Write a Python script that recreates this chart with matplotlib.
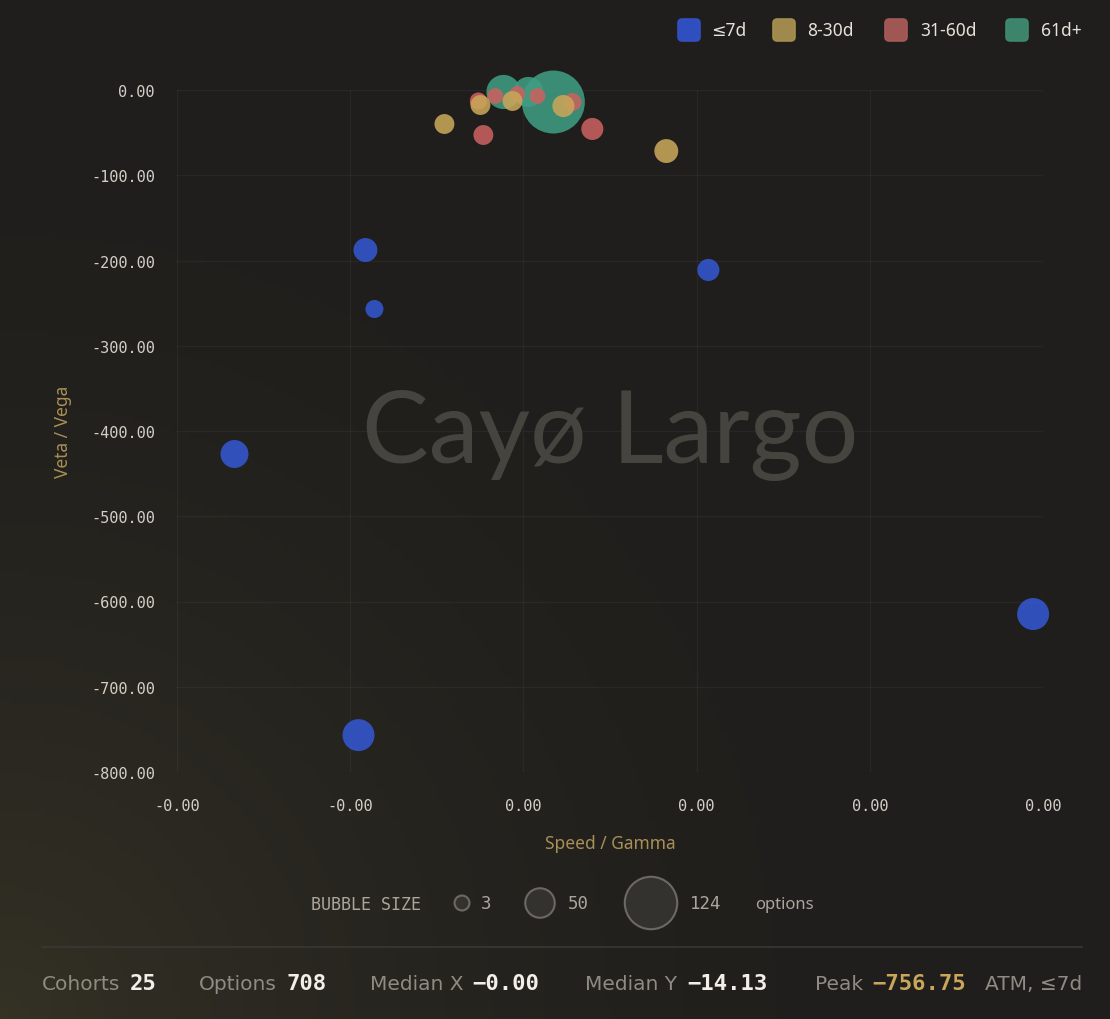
import numpy as np
import matplotlib
matplotlib.use("Agg")
import matplotlib.pyplot as plt
from matplotlib.ticker import FuncFormatter, FixedLocator
from matplotlib.patches import FancyBboxPatch, Circle

# cohorts by expiry bucket: x = speed/gamma (x1e-4), y = veta/vega, n = option count
groups = ["≤7d", "8-30d", "31-60d", "61d+"]
colors = ["#3457d0", "#c9a65a", "#c9615f", "#3f9c82"]
legend_colors = ["#3152c8", "#a8904f", "#a85b58", "#3f8a72"]

blue_x = [-1.668, -0.912, -0.860, 1.068, 2.943, -0.952]
blue_y = [-427.0, -187.7, -256.9, -211.1, -614.7, -756.75]
blue_n = [45, 32, 13, 26, 58, 58]

gold_x = [-0.456, -0.248, -0.063, 0.231, 0.825]
gold_y = [-39.9, -17.6, -12.9, -18.8, -71.6]
gold_n = [19, 19, 19, 26, 32]

red_x = [-0.260, -0.231, -0.162, -0.035, 0.081, 0.283, 0.398]
red_y = [-12.9, -52.8, -7.0, -4.7, -7.0, -14.1, -45.7]
red_n = [10, 19, 6, 6, 6, 13, 26]

teal_x = [-0.115, 0.029, 0.173]
teal_y = [-2.3, -2.3, -14.1]
teal_n = [65, 52, 158]

x_ticks = [-2, -1, 0, 1, 2, 3]
y_ticks = [0, -100, -200, -300, -400, -500, -600, -700, -800]
size_legend = [3, 50, 124]

stats_labels = ["Cohorts", "Options", "Median X", "Median Y", "Peak"]
stats_values = ["25", "708", "−0.00", "−14.13", "−756.75"]
peak_note = "ATM, ≤7d"

W, H = 1110, 1020
DPI = 100


def radius_px(n):
    return 7 + 0.155 * n


def area_pt(n):
    r = radius_px(np.asarray(n, dtype=float)) * 72 / DPI
    return (2 * r) ** 2


def fx(px):
    return px / W


def fy(py):
    return 1 - py / H


fig = plt.figure(figsize=(W / DPI, H / DPI), dpi=DPI)

# background gradient, warmer toward bottom-left
bg = fig.add_axes([0, 0, 1, 1], zorder=-10)
gy, gx = np.mgrid[0:1:200j, 0:1:200j]
d = np.clip(1 - np.hypot(gx * 1.1, (1 - gy) * 1.0), 0, 1) ** 2
top = np.array([0x1f, 0x1e, 0x1c]) / 255
warm = np.array([0x34, 0x31, 0x25]) / 255
img = top[None, None, :] * (1 - d[..., None]) + warm[None, None, :] * d[..., None]
bg.imshow(img, extent=[0, 1, 0, 1], aspect="auto", origin="upper")
bg.axis("off")

ax = fig.add_axes([fx(177), fy(773), fx(1043) - fx(177), fy(91) - fy(773)])
ax.set_facecolor("none")
ax.set_xlim(-2, 3)
ax.set_ylim(-800, 0)
for s in ax.spines.values():
    s.set_visible(False)
ax.xaxis.set_major_locator(FixedLocator(x_ticks))
ax.yaxis.set_major_locator(FixedLocator(y_ticks))
ax.xaxis.set_major_formatter(FuncFormatter(lambda v, p: f"{v * 1e-4:.2f}" if v >= 0 else f"-{abs(v) * 1e-4:.2f}"))
ax.yaxis.set_major_formatter(FuncFormatter(lambda v, p: f"{v:.2f}"))
ax.grid(True, color="#ffffff", alpha=0.045, linewidth=1)
ax.tick_params(length=0, colors="#d3cfc7", labelsize=11)
ax.tick_params(axis="y", pad=16)
ax.tick_params(axis="x", pad=19)
for lab in ax.get_xticklabels() + ax.get_yticklabels():
    lab.set_fontfamily("DejaVu Sans Mono")

# watermark
ax.text(0.5, 0.495, "Cayø Largo", transform=ax.transAxes, ha="center", va="center",
        fontsize=72, color="#46443f", family=["Lato", "DejaVu Sans"],
        fontweight="normal", zorder=5)

series = [
    (teal_x, teal_y, teal_n, colors[3]),
    (red_x, red_y, red_n, colors[2]),
    (gold_x, gold_y, gold_n, colors[1]),
    (blue_x, blue_y, blue_n, colors[0]),
]
for i, (xs, ys, ns, c) in enumerate(series):
    ax.scatter(xs, ys, s=area_pt(ns), color=c, alpha=0.88, linewidths=0,
               zorder=10 + i, clip_on=False)

ax.set_xlabel("Speed / Gamma", color="#a88f56", fontsize=12.5, family="Noto Sans")
ax.set_ylabel("Veta / Vega", color="#a88f56", fontsize=12.5, family="Noto Sans")
ax.xaxis.set_label_coords(0.5, -(835 - 773) / (773 - 91))
ax.yaxis.set_label_coords(-(177 - 72) / (1043 - 177), 0.5)

# top legend
leg_sq_x = [678, 773, 885, 1006]
leg_txt_x = [711, 807, 920, 1041]
for c, g, sx, tx in zip(legend_colors, groups, leg_sq_x, leg_txt_x):
    fig.patches.append(FancyBboxPatch((fx(sx), fy(42)), fx(22), 22 / H,
                                      boxstyle="round,pad=0,rounding_size=0.004",
                                      transform=fig.transFigure, facecolor=c,
                                      edgecolor=c, linewidth=1.2, alpha=0.95))
    fig.text(fx(tx), fy(31), g, color="#e6e2da", fontsize=12.5, va="center",
             family=["Noto Sans", "DejaVu Sans"])

# bubble size legend
fig.text(fx(311), fy(905), "BUBBLE SIZE", color="#aaa69d", fontsize=12,
         family="DejaVu Sans Mono", va="center")
circ_x = [462, 540, 651]
lab_x = [481, 568, 690]
for n, cx, lx in zip(size_legend, circ_x, lab_x):
    r = radius_px(n)
    fig.patches.append(Circle((cx, H - 904), r, transform=None, facecolor="#34322e",
                              edgecolor="#6c6964", linewidth=1.5))
    fig.text(fx(lx), fy(904), str(n), color="#aaa69d", fontsize=12.5,
             family="DejaVu Sans Mono", va="center")
fig.text(fx(755), fy(905), "options", color="#aaa69d", fontsize=12,
         family="Noto Sans", va="center")

# footer
fig.add_artist(plt.Line2D([fx(42), fx(1082)], [fy(948), fy(948)], color="#3a3833", linewidth=1.2))
lab_pos = [42, 199, 370, 585, 815]
val_pos = [130, 287, 472, 687, 872]
for lab, val, lx, vx in zip(stats_labels, stats_values, lab_pos, val_pos):
    fig.text(fx(lx), fy(985), lab, color="#8f8b83", fontsize=14.5,
             family="DejaVu Sans", va="center")
    vc = "#c9a65a" if lab == "Peak" else "#f2efe8"
    fig.text(fx(vx), fy(984), val, color=vc, fontsize=16, fontweight="bold",
             family="DejaVu Sans Mono", va="center")
fig.text(fx(985), fy(985), peak_note, color="#8f8b83", fontsize=14.5,
         family="DejaVu Sans", va="center")

fig.savefig("out.png", dpi=DPI)
